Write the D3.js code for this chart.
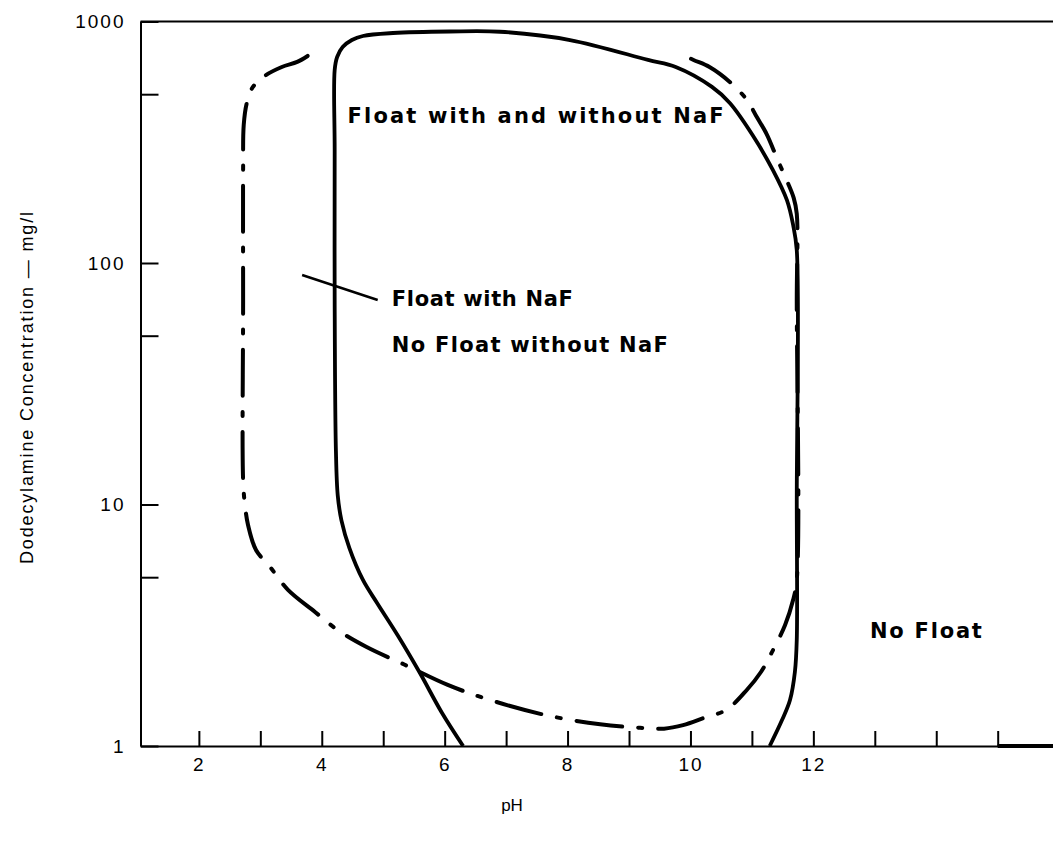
<!DOCTYPE html>
<html>
<head>
<meta charset="utf-8">
<script src="https://cdn.jsdelivr.net/npm/d3@7"></script>
<style>
  body { margin: 0; background: #fff; }
  text { font-family: "Liberation Sans", Arial, Helvetica, sans-serif; fill: #000; }
</style>
</head>
<body>
<div id="chart"></div>
<script>
// boundary of the region that floats with and without NaF (pH, mg/l)
const bothPH   = [6.30, 5.95, 5.60, 5.24, 4.90, 4.67, 4.45, 4.32, 4.26, 4.23, 4.21, 4.21, 4.21, 4.25, 4.34, 4.49, 4.67, 5.16, 6.08, 6.90, 8.04, 9.31, 9.76, 10.35, 10.64, 11.01, 11.34, 11.57, 11.67, 11.73, 11.73, 11.73, 11.70, 11.62, 11.49, 11.29];
const bothConc = [1.00, 1.38, 2.00, 2.86, 3.91, 4.87, 6.60, 8.60, 10.9, 16.8, 70, 294, 630, 713, 784, 838, 871, 896, 909, 907, 838, 693, 648, 536, 460, 339, 243, 182, 144, 113, 10.4, 2.75, 2.03, 1.55, 1.28, 1.00];

// boundary of the region that floats only with NaF
const nafPH   = [3.77, 3.60, 3.35, 3.07, 2.88, 2.78, 2.73, 2.72, 2.72, 2.72, 2.75, 2.80, 2.93, 3.16, 3.45, 3.89, 4.26, 4.73, 5.35, 6.05, 6.74, 7.66, 8.53, 9.18, 9.57, 9.88, 10.23, 10.58, 10.92, 11.15, 11.32, 11.54, 11.67, 11.73, 11.73, 11.73, 11.68, 11.58, 11.42, 11.24, 11.08, 10.92, 10.64, 10.31, 10.05, 9.88];
const nafConc = [720, 680, 648, 595, 536, 460, 373, 243, 70, 12.6, 9.95, 8.23, 6.48, 5.51, 4.43, 3.59, 3.02, 2.57, 2.17, 1.79, 1.55, 1.34, 1.23, 1.19, 1.18, 1.22, 1.31, 1.41, 1.71, 2.03, 2.43, 3.17, 4.02, 4.87, 70, 160, 186, 216, 267, 342, 402, 473, 562, 648, 693, 727];

const xTicks = [2, 3, 4, 5, 6, 7, 8, 9, 10, 11, 12, 13, 14, 15];
const xTickLabels = ['2', '', '4', '', '6', '', '8', '', '10', '', '12', '', '', ''];
const yTicks = [1, 5, 10, 50, 100, 500, 1000];
const yTickLabels = ['1', '', '10', '', '100', '', '1000'];

const regionLabels = [
    { text: 'Float with and without NaF', ph: 4.42, conc: 380, width: 376 },
    { text: 'Float with NaF', ph: 5.14, conc: 66.4, width: 181 },
    { text: 'No Float without NaF', ph: 5.14, conc: 42.8, width: 276 },
    { text: 'No Float', ph: 12.92, conc: 2.8, width: 112 }
];
const leaderPH = [3.68, 4.91];
const leaderConc = [89.2, 70.3];

const WIDTH = 1053;
const HEIGHT = 845;

const svg = d3.select('#chart')
    .append('svg')
        .attr('width', WIDTH)
        .attr('height', HEIGHT);

const x = d3.scaleLinear()
    .domain([1.05, 15.9])
    .range([140.5, 1053]);

const y = d3.scaleLog()
    .domain([1, 1000])
    .range([746, 21.5]);

// frame line on top
svg.append('line')
    .attr('x1', x.range()[0]).attr('x2', x.range()[1])
    .attr('y1', y(1000)).attr('y2', y(1000))
    .attr('stroke', '#000').attr('stroke-width', 2);

const xAxis = svg.append('g')
    .attr('transform', `translate(0,${y(1)})`)
    .call(d3.axisBottom(x)
        .tickValues(xTicks)
        .tickSizeInner(-15)
        .tickSizeOuter(0)
        .tickPadding(12)
        .tickFormat((d, i) => xTickLabels[i]));

// heavier end of the base line
xAxis.append('line')
    .attr('x1', x(15)).attr('x2', x.range()[1])
    .attr('stroke', '#000').attr('stroke-width', 4);

const yAxis = svg.append('g')
    .attr('transform', `translate(${x.range()[0]},0)`)
    .call(d3.axisLeft(y)
        .tickValues(yTicks)
        .tickSizeInner(-18)
        .tickSizeOuter(0)
        .tickPadding(15)
        .tickFormat((d, i) => yTickLabels[i]));

[xAxis, yAxis].forEach(a => {
    a.attr('font-family', null).attr('font-size', null);
    a.select('.domain').attr('stroke-width', 2);
    a.selectAll('.tick line').attr('stroke-width', 2);
    a.selectAll('.tick text')
        .style('font-size', '19px')
        .style('letter-spacing', '2px');
});

svg.append('text')
    .attr('x', 512)
    .attr('y', 811)
    .attr('text-anchor', 'middle')
    .style('font-size', '17px')
    .text('pH');

svg.append('text')
    .attr('transform', 'translate(33,388) rotate(-90)')
    .attr('text-anchor', 'middle')
    .attr('textLength', 352)
    .attr('lengthAdjust', 'spacing')
    .style('font-size', '18px')
    .text('Dodecylamine Concentration — mg/l');

const line = d3.line()
    .x(d => x(d[0]))
    .y(d => y(d[1]))
    .curve(d3.curveCatmullRom.alpha(0.5));

svg.append('path')
    .datum(d3.zip(nafPH, nafConc))
    .attr('d', line)
    .attr('fill', 'none')
    .attr('stroke', '#000')
    .attr('stroke-width', 4)
    .attr('stroke-linecap', 'round')
    .attr('stroke-dasharray', '46 16 4 16');

svg.append('path')
    .datum(d3.zip(bothPH, bothConc))
    .attr('d', line)
    .attr('fill', 'none')
    .attr('stroke', '#000')
    .attr('stroke-width', 3.8)
    .attr('stroke-linejoin', 'round');

svg.append('path')
    .datum(d3.zip(leaderPH, leaderConc))
    .attr('d', d3.line().x(d => x(d[0])).y(d => y(d[1])))
    .attr('stroke', '#000')
    .attr('stroke-width', 2.5);

svg.selectAll('.region-label')
    .data(regionLabels)
    .enter()
    .append('text')
        .attr('class', 'region-label')
        .attr('x', d => x(d.ph))
        .attr('y', d => y(d.conc))
        .attr('textLength', d => d.width)
        .attr('lengthAdjust', 'spacing')
        .style('font-family', '"DejaVu Sans", sans-serif')
        .style('font-size', '21px')
        .style('font-weight', 'bold')
        .text(d => d.text);
</script>
</body>
</html>
